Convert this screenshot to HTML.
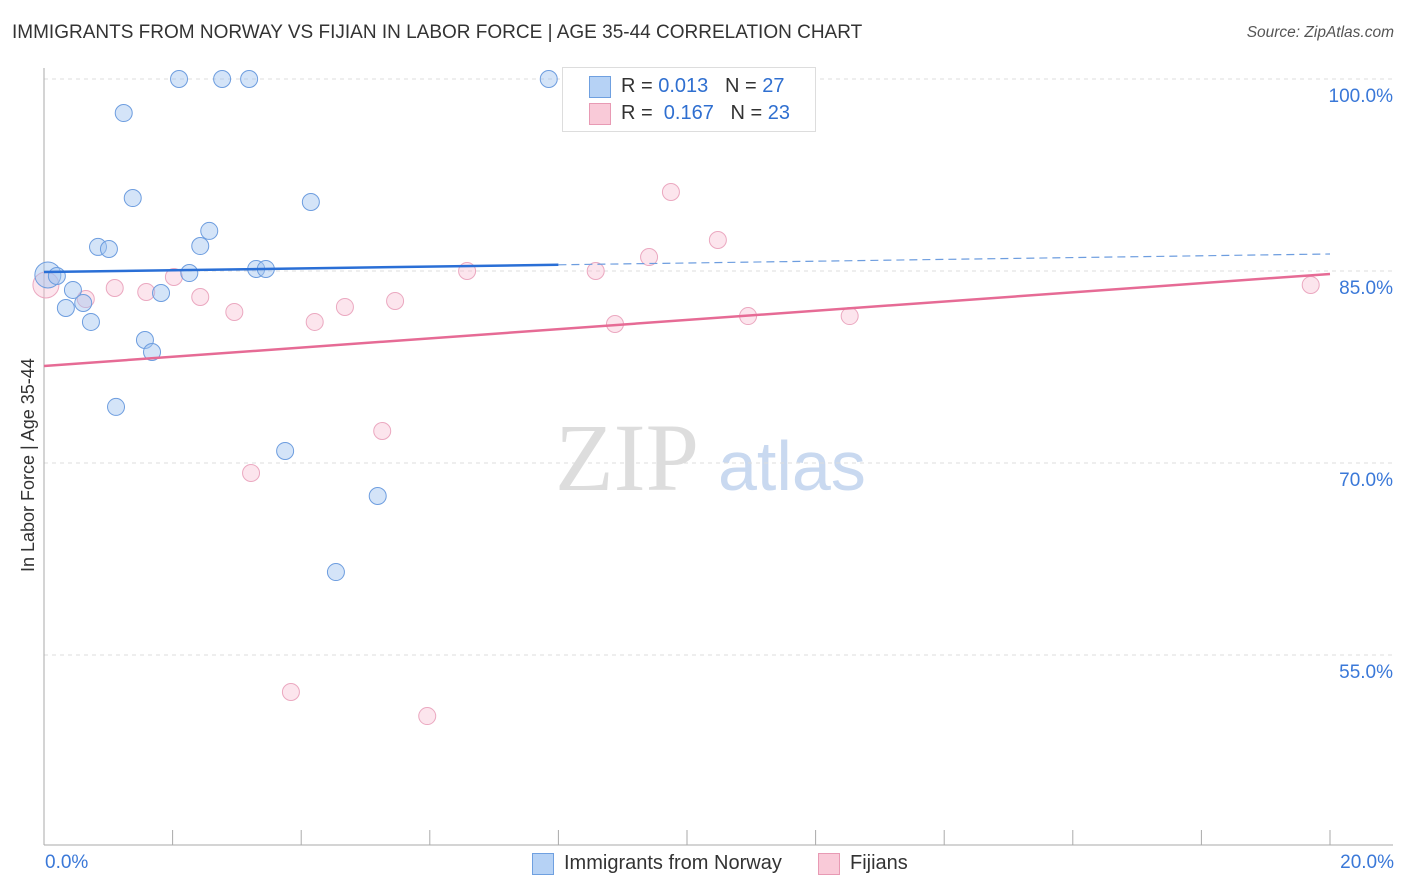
<!DOCTYPE html>
<html><head><meta charset="utf-8"><style>
body{margin:0;background:#fff;font-family:"Liberation Sans",sans-serif;}
#wrap{position:relative;width:1406px;height:892px;overflow:hidden;}
.t{position:absolute;white-space:nowrap;}
</style></head><body>
<div id="wrap">
<div class="t" style="left:12px;top:22px;font-size:19px;color:#333;">IMMIGRANTS FROM NORWAY VS FIJIAN IN LABOR FORCE | AGE 35-44 CORRELATION CHART</div>
<div class="t" style="right:12px;top:24px;font-size:15.5px;color:#555;font-style:italic;">Source: ZipAtlas.com</div>
<svg id="svg" width="1406" height="892" style="position:absolute;left:0;top:0">
<text x="555" y="490" font-family="Liberation Serif,serif" font-size="96" fill="#ddd">ZIP</text>
<text x="718" y="490" font-family="Liberation Sans,sans-serif" font-size="70" fill="#c9d9f0">atlas</text>
</svg>
<div class="t" style="font-size:18px;color:#333;transform:rotate(-90deg);transform-origin:0 0;left:18px;top:572px;">In Labor Force | Age 35-44</div>
<div style="position:absolute;left:562px;top:67px;width:252px;height:63px;border:1px solid #ddd;background:#fff;">
 <div style="position:absolute;left:26px;top:8px;width:20px;height:20px;background:#b6d2f5;border:1px solid #6fa0e0;"></div>
 <div class="t" style="left:58px;top:7px;font-size:20px;color:#333;">R = <span style="color:#2f6fd0">0.013</span>&nbsp;&nbsp;&nbsp;N = <span style="color:#2f6fd0">27</span></div>
 <div style="position:absolute;left:26px;top:35px;width:20px;height:20px;background:#f9cad8;border:1px solid #e89ab4;"></div>
 <div class="t" style="left:58px;top:34px;font-size:20px;color:#333;">R = &nbsp;<span style="color:#2f6fd0">0.167</span>&nbsp;&nbsp;&nbsp;N = <span style="color:#2f6fd0">23</span></div>
</div>
<div style="position:absolute;left:532px;top:853px;width:20px;height:20px;background:#b6d2f5;border:1px solid #6fa0e0;"></div>
<div class="t" style="left:564px;top:852px;font-size:20px;color:#333;">Immigrants from Norway</div>
<div style="position:absolute;left:818px;top:853px;width:20px;height:20px;background:#f9cad8;border:1px solid #e89ab4;"></div>
<div class="t" style="left:850px;top:852px;font-size:20px;color:#333;">Fijians</div>
</div>
<script>
const yTicks=[100,85,70,55];
const yTickLabels=["100.0%","85.0%","70.0%","55.0%"];
const xTickLabels=["0.0%","20.0%"];
const blueX=[0.06,0.20,0.45,0.34,0.61,0.73,0.84,1.01,1.24,1.38,1.57,1.68,1.12,1.82,2.10,2.26,2.43,2.57,2.77,3.19,3.30,3.45,3.75,4.15,4.54,5.19,7.85];
const blueY=[84.69,84.61,83.52,82.11,82.5,81.02,86.88,86.72,97.34,90.70,79.61,78.67,74.38,83.28,100,84.84,86.95,88.13,100,100,85.16,85.16,70.94,90.39,61.48,67.42,100];
const pinkX=[0.03,0.65,1.10,1.59,2.02,2.43,2.96,3.22,3.84,4.21,4.68,5.26,5.46,5.96,6.58,8.58,8.88,9.41,9.75,10.48,10.95,12.53,19.70];
const pinkY=[83.91,82.81,83.67,83.36,84.53,82.97,81.80,69.22,52.11,81.02,82.19,72.50,82.66,50.23,85.0,85.0,80.86,86.09,91.17,87.42,81.48,81.48,83.91];
const blueTrend=[84.92,86.33];
const pinkTrend=[77.58,84.77];
const X=v=>44+v/20*1286;
const Y=v=>79+(100-v)*12.8;
const svg=document.getElementById('svg');
const wrap=document.getElementById('wrap');
const NS='http://www.w3.org/2000/svg';
function mk(tag,attrs){const e=document.createElementNS(NS,tag);for(const k in attrs)e.setAttribute(k,attrs[k]);svg.appendChild(e);return e;}
yTicks.forEach((v,i)=>{
 const g=mk('line',{x1:44,x2:1393,y1:Y(v),y2:Y(v),stroke:'#ddd','stroke-dasharray':'4,4'});
 
 
 const d=document.createElement('div');d.className='t';
 d.style.cssText='right:13px;top:'+(Y(v)+7)+'px;font-size:19px;color:#3a78d8;';
 d.textContent=yTickLabels[i];
 
 
 wrap.appendChild(d);
});
let a=mk('line',{x1:44,x2:44,y1:68,y2:845,stroke:'#aaa'});


a=mk('line',{x1:44,x2:1393,y1:845,y2:845,stroke:'#aaa'});


for(let i=0;i<=10;i++){const t=mk('line',{x1:X(i*2),x2:X(i*2),y1:830,y2:845,stroke:'#aaa'});
 
 }
xTickLabels.forEach((l,i)=>{const d=document.createElement('div');d.className='t';
 d.style.cssText='top:852px;font-size:19px;color:#3a78d8;'+(i==0?'left:45px;':'right:12px;');
 d.textContent=l;
 
 
 wrap.appendChild(d);});
function dot(x,y,r,fill,stroke,name){const c=mk('circle',{cx:X(x),cy:Y(y),r:r,fill:fill,stroke:stroke,'stroke-width':1});
 
 }
pinkX.forEach((x,i)=>dot(x,pinkY[i],i==0?13:8.5,'rgba(248,190,210,0.4)','#eba8c0','fijian-point'));
blueX.forEach((x,i)=>dot(x,blueY[i],i==0?13:8.5,'rgba(160,196,240,0.45)','#6d9ddf','norway-point'));
const bx=8.0,by=blueTrend[0]+(blueTrend[1]-blueTrend[0])*bx/20;
let l=mk('line',{x1:X(0),y1:Y(blueTrend[0]),x2:X(bx),y2:Y(by),stroke:'#2a6fd6','stroke-width':2.5});


l=mk('line',{x1:X(bx),y1:Y(by),x2:X(20),y2:Y(blueTrend[1]),stroke:'#6d9ddf','stroke-width':1.2,'stroke-dasharray':'8,5'});


l=mk('line',{x1:X(0),y1:Y(pinkTrend[0]),x2:X(20),y2:Y(pinkTrend[1]),stroke:'#e66b95','stroke-width':2.5});


</script>
</body></html>
